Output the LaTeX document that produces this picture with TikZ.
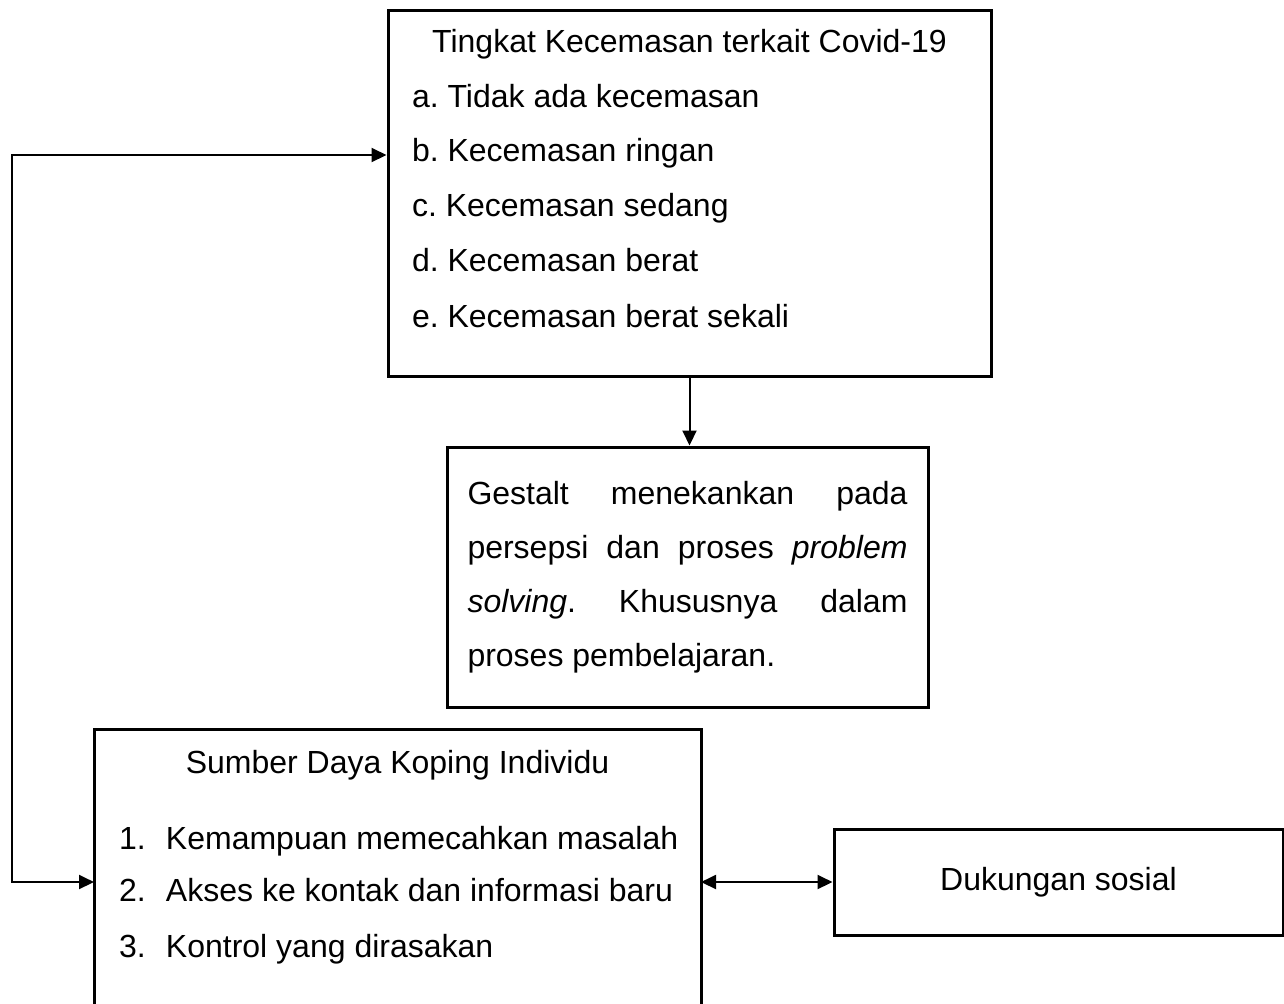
\documentclass[tikz,border=0pt]{standalone}
\usepackage{fontspec}
\setmainfont{Liberation Sans}
\usetikzlibrary{arrows.meta}
\frenchspacing

\begin{document}
\begin{tikzpicture}[x=1pt,y=1pt,>={Triangle[length=7.5pt,width=7pt]},
  font=\fontsize{16}{27}\selectfont,
  every node/.style={inner sep=0pt},
  kotak/.style={draw,line width=1.5pt},
  line width=1pt]
\path[use as bounding box] (0,-501.5) rectangle (642,0);

% tingkat kecemasan
\node[kotak,minimum width=301.5pt,minimum height=183pt] (tingkat) at (344.75,-96.5) {};
\node[anchor=base] (judul1) at (344.75,-26) {Tingkat Kecemasan terkait Covid-19};
\node[anchor=base west] (t1) at (205.5,-53.5) {a. Tidak ada kecemasan};
\node[anchor=base west] (t2) at (205.5,-80.5) {b. Kecemasan ringan};
\node[anchor=base west] (t3) at (205.5,-108) {c. Kecemasan sedang};
\node[anchor=base west] (t4) at (205.5,-135.5) {d. Kecemasan berat};
\node[anchor=base west] (t5) at (205.5,-163.5) {e. Kecemasan berat sekali};

% gestalt
\node[kotak,text width=220pt,inner xsep=10.25pt,minimum height=130pt,align=justify]
  (gestalt) at (343.75,-288.5)
  {Gestalt menekankan pada\linebreak persepsi dan proses \textit{problem}\linebreak
   \textit{solving}. Khususnya dalam\linebreak proses pembelajaran.};
\draw[->] (tingkat.south) -- (tingkat.south |- gestalt.north);

% sumber daya koping
\node[minimum width=302.5pt,minimum height=136.5pt] (koping) at (198.75,-433.25) {};
\draw[kotak] (koping.south west) |- (koping.north) -| (koping.south east);
\node[anchor=base] (judul2) at (198.75,-386.5) {Sumber Daya Koping Individu};
\node[anchor=base west] (k1) at (59,-424.5) {\makebox[23.5pt][l]{1.}Kemampuan memecahkan masalah};
\node[anchor=base west] (k2) at (59,-450.5) {\makebox[23.5pt][l]{2.}Akses ke kontak dan informasi baru};
\node[anchor=base west] (k3) at (59,-478.5) {\makebox[23.5pt][l]{3.}Kontrol yang dirasakan};

% dukungan sosial
\node[kotak,minimum width=224.5pt,minimum height=53pt] (dukungan) at (529.25,-441) {Dukungan sosial};
\draw[<->] (koping.east |- dukungan.west) -- (dukungan.west);

% umpan balik kiri
\coordinate (sudut) at (6,-77.5);
\draw[<->] (tingkat.west |- sudut) -- (sudut) -- (sudut |- dukungan.west)
  -- (koping.west |- dukungan.west);
\end{tikzpicture}
\end{document}
